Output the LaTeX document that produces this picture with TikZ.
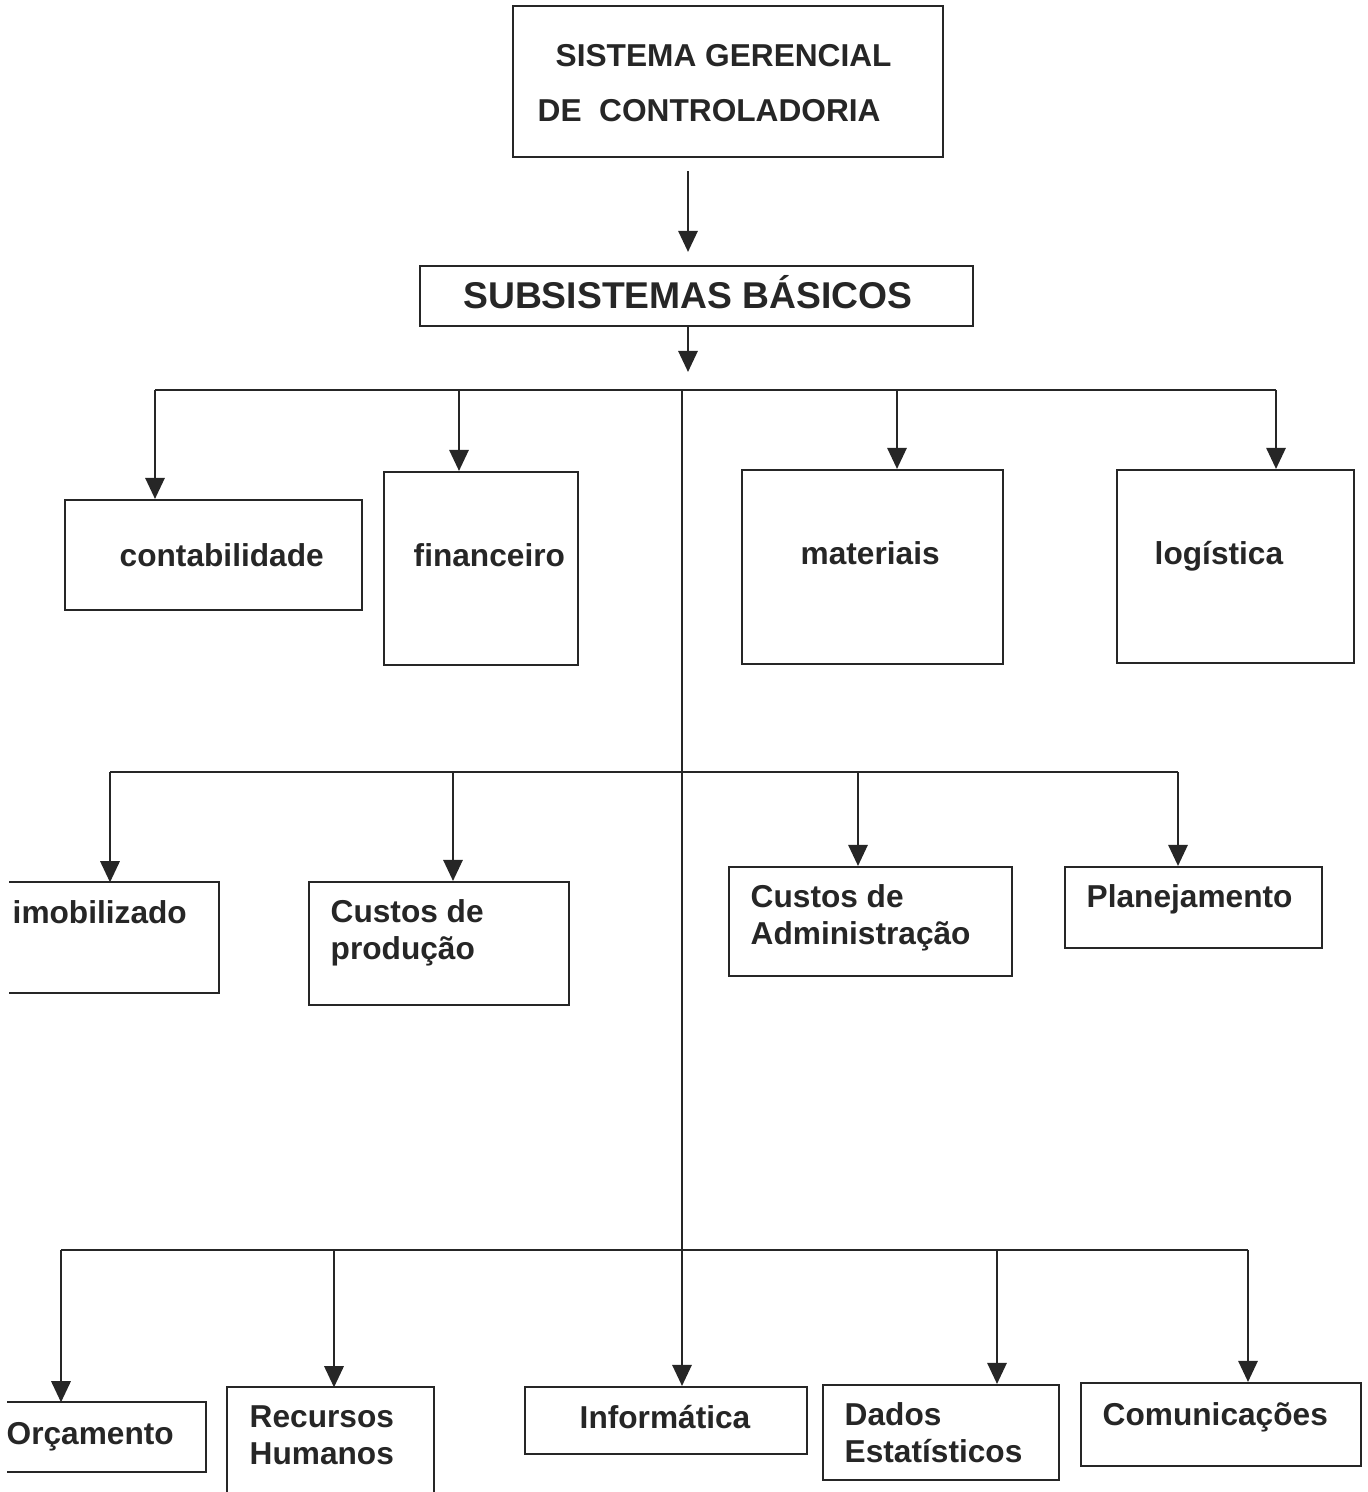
\documentclass[tikz,border=0pt]{standalone}
\usepackage{fontspec}
\setmainfont{Liberation Sans}
\usetikzlibrary{arrows.meta,fit}
\definecolor{ink}{gray}{0.15}

\begin{document}
\begin{tikzpicture}[x=0.01cm,y=-0.01cm,
  box/.style={draw=ink,line width=0.6pt,inner sep=0pt},
  open/.style={inner sep=0pt},
  lbl/.style={inner sep=0pt,text=ink,font=\fontsize{9}{10.6}\selectfont\bfseries},
  bar/.style={draw=ink,line width=0.6pt},
  arr/.style={draw=ink,line width=0.6pt,-{Triangle[width=5.5pt,length=6pt]}}]
\fill [white] (0,0) rectangle (1368,1492);
\useasboundingbox (0,0) rectangle (1368,1492);
\node [box, fit={(513,6) (943,157)}] (sgc) {};
\node [lbl, anchor=north west, align=left, font=\fontsize{9}{15.6}\selectfont\bfseries] at (537,44) {\hspace*{0.18cm}SISTEMA GERENCIAL\\DE\ \ CONTROLADORIA};
\node [box, fit={(420,266) (973,326)}] (sub) {};
\node [lbl, anchor=base, font=\fontsize{10.6}{12}\selectfont\bfseries] at (688,309) {SUBSISTEMAS BÁSICOS};
\node [box, fit={(65,500) (362,610)}] (cont) {};
\node [lbl, anchor=base west] at (119,567) {contabilidade};
\node [box, fit={(384,472) (578,665)}] (fin) {};
\node [lbl, anchor=base west] at (413,567) {financeiro};
\node [box, fit={(742,470) (1003,664)}] (mat) {};
\node [lbl, anchor=base west] at (800,565) {materiais};
\node [box, fit={(1117,470) (1354,663)}] (log) {};
\node [lbl, anchor=base west] at (1154,565) {logística};
\node [open, fit={(10,883) (218,992)}] (imob) {};
\draw [bar] (imob.north west) -- (imob.north east) -- (imob.south east) -- (imob.south west);
\node [lbl, anchor=base west] at (12,923) {imobilizado};
\node [box, fit={(309,882) (569,1005)}] (cprod) {};
\node [lbl, anchor=north west, align=left] at (330,899) {Custos de\\produção};
\node [box, fit={(729,867) (1012,976)}] (cadm) {};
\node [lbl, anchor=north west, align=left] at (750,884) {Custos de\\Administração};
\node [box, fit={(1065,867) (1322,948)}] (plan) {};
\node [lbl, anchor=base west] at (1086,907) {Planejamento};
\node [open, fit={(8,1403) (205,1471)}] (orc) {};
\draw [bar] (orc.north west) -- (orc.north east) -- (orc.south east) -- (orc.south west);
\node [lbl, anchor=base west] at (6,1444) {Orçamento};
\node [open, fit={(228,1388) (433,1492)}] (rh) {};
\draw [bar] (rh.south west) -- (rh.north west) -- (rh.north east) -- (rh.south east);
\node [lbl, anchor=north west, align=left] at (249,1405) {Recursos\\Humanos};
\node [box, fit={(525,1387) (807,1454)}] (info) {};
\node [lbl, anchor=base west] at (579,1428) {Informática};
\node [box, fit={(823,1385) (1059,1480)}] (dados) {};
\node [lbl, anchor=north west, align=left] at (844,1402) {Dados\\Estatísticos};
\node [box, fit={(1081,1383) (1361,1466)}] (com) {};
\node [lbl, anchor=base west] at (1102,1425) {Comunicações};
\coordinate (a0) at (688,0);
\coordinate (t0) at (682,390);
\coordinate (p1) at (155,390);
\coordinate (p2) at (459,390);
\coordinate (p3) at (897,390);
\coordinate (p4) at (1276,390);
\coordinate (q1) at (110,772);
\coordinate (q2) at (453,772);
\coordinate (q3) at (858,772);
\coordinate (q4) at (1178,772);
\coordinate (r1) at (61,1250);
\coordinate (r2) at (334,1250);
\coordinate (r3) at (997,1250);
\coordinate (r4) at (1248,1250);
\draw [arr, shorten <=0.13cm, shorten >=0.13cm] (sgc.south -| a0) -- (sub.north -| a0);
\draw [arr, shorten >=0.18cm] (sub.south -| a0) -- (t0 -| a0);
\draw [bar] (p1) -- (p4);
\draw [bar] (q1) -- (q4);
\draw [bar] (r1) -- (r4);
\draw [arr] (t0) -- (t0 |- info.north);
\draw [arr] (p1) -- (p1 |- cont.north);
\draw [arr] (p2) -- (p2 |- fin.north);
\draw [arr] (p3) -- (p3 |- mat.north);
\draw [arr] (p4) -- (p4 |- log.north);
\draw [arr] (q1) -- (q1 |- imob.north);
\draw [arr] (q2) -- (q2 |- cprod.north);
\draw [arr] (q3) -- (q3 |- cadm.north);
\draw [arr] (q4) -- (q4 |- plan.north);
\draw [arr] (r1) -- (r1 |- orc.north);
\draw [arr] (r2) -- (r2 |- rh.north);
\draw [arr] (r3) -- (r3 |- dados.north);
\draw [arr] (r4) -- (r4 |- com.north);
\end{tikzpicture}
\end{document}
